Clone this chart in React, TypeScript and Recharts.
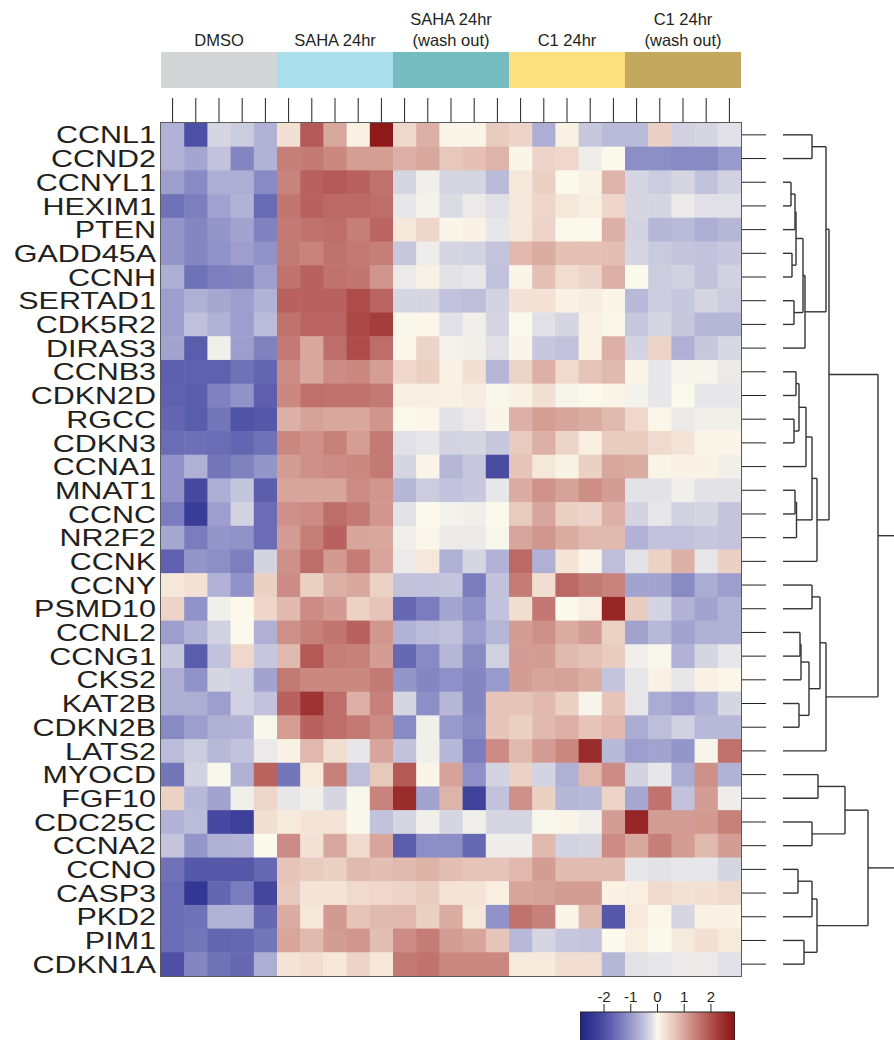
import React from 'react';
import {
  ScatterChart, Scatter, XAxis, YAxis, ReferenceLine, ReferenceArea,
  BarChart, Bar, Cell, LabelList,
} from 'recharts';

const FONT = '"Liberation Sans", Arial, Helvetica, sans-serif';

const genes = [
  'CCNL1', 'CCND2', 'CCNYL1', 'HEXIM1', 'PTEN', 'GADD45A', 'CCNH', 'SERTAD1', 'CDK5R2', 'DIRAS3',
  'CCNB3', 'CDKN2D', 'RGCC', 'CDKN3', 'CCNA1', 'MNAT1', 'CCNC', 'NR2F2', 'CCNK', 'CCNY',
  'PSMD10', 'CCNL2', 'CCNG1', 'CKS2', 'KAT2B', 'CDKN2B', 'LATS2', 'MYOCD', 'FGF10', 'CDC25C',
  'CCNA2', 'CCNO', 'CASP3', 'PKD2', 'PIM1', 'CDKN1A',
];

const groupLabels = ['DMSO', 'SAHA 24hr', 'SAHA 24hr\n(wash out)', 'C1 24hr', 'C1 24hr\n(wash out)'];
const groupColors = ['#d4d5d7', '#a9dfea', '#74bcbf', '#fde07e', '#c2a95e'];

const dmso = [
  [-0.7, -2.0, -0.3, -0.4, -0.7], [-0.7, -0.85, -0.5, -1.25, -0.7], [-0.95, -1.2, -0.75, -0.75, -1.2],
  [-1.5, -1.35, -0.9, -0.7, -1.6], [-1.05, -1.25, -1.05, -0.88, -1.3], [-1.05, -1.25, -1.1, -0.95, -1.1],
  [-0.75, -1.5, -1.35, -1.3, -0.95], [-0.95, -0.72, -0.82, -0.95, -0.7], [-0.95, -0.52, -0.7, -0.95, -0.58],
  [-0.88, -1.8, -0.08, -0.95, -1.3], [-1.75, -1.72, -1.72, -1.5, -1.65], [-1.72, -1.78, -1.3, -1.1, -1.75],
  [-1.65, -1.8, -1.45, -1.95, -1.88], [-1.58, -1.52, -1.58, -1.65, -1.5], [-1.1, -0.72, -1.45, -1.3, -1.05],
  [-1.1, -2.1, -0.75, -0.48, -1.78], [-1.38, -2.3, -0.95, -0.33, -1.58], [-0.82, -1.38, -1.05, -1.1, -1.58],
  [-1.72, -1.05, -1.15, -1.35, -0.33], [0.22, 0.28, -0.7, -1.1, 0.5], [0.45, -1.1, -0.08, 0.0, 0.42],
  [-0.95, -0.7, -0.35, 0.0, -0.72], [-0.45, -1.8, -0.5, 0.4, -0.45], [-0.75, -1.1, -0.3, -0.35, -0.88],
  [-0.75, -0.75, -0.95, -0.35, -0.5], [-1.2, -0.95, -0.72, -0.7, -0.02], [-0.58, -0.4, -0.62, -0.5, -0.12],
  [-1.45, -0.35, -0.02, -0.72, 1.78], [0.48, -0.62, -0.88, -0.08, 0.42], [-0.7, -0.58, -2.1, -2.25, 0.3],
  [-0.48, -1.05, -0.72, -0.7, 0.0], [-1.5, -1.88, -1.85, -1.88, -1.62], [-1.58, -2.45, -1.65, -1.38, -2.15],
  [-1.58, -1.5, -0.7, -0.7, -1.62], [-1.58, -1.45, -1.65, -1.62, -1.45], [-2.0, -1.25, -1.5, -1.62, -0.75],
];

const saha24 = [
  [0.3, 1.9, 1.0, 0.1, 2.8], [1.45, 1.5, 1.35, 1.1, 1.1], [1.4, 1.8, 1.9, 1.8, 1.6],
  [1.55, 1.8, 1.7, 1.7, 1.65], [1.5, 1.6, 1.65, 1.45, 1.75], [1.5, 1.4, 1.6, 1.5, 1.45],
  [1.6, 1.8, 1.6, 1.55, 1.2], [1.8, 1.8, 1.8, 2.05, 1.75], [1.6, 1.75, 1.75, 2.1, 2.25],
  [1.5, 1.0, 1.65, 2.05, 1.65], [1.3, 1.0, 1.3, 1.35, 1.1], [1.35, 1.62, 1.6, 1.6, 1.5],
  [0.9, 1.05, 1.0, 1.0, 1.2], [1.35, 1.25, 1.42, 1.1, 1.5], [1.12, 1.25, 1.3, 1.35, 1.5],
  [1.02, 1.02, 1.02, 1.3, 1.18], [1.25, 1.3, 1.65, 1.5, 1.18], [1.12, 1.45, 1.8, 1.02, 1.0],
  [1.25, 1.65, 1.15, 1.48, 1.02], [1.3, 0.5, 0.9, 1.0, 0.48], [0.78, 1.3, 1.15, 0.48, 0.65],
  [1.25, 1.42, 1.55, 1.8, 1.18], [0.78, 1.9, 1.45, 1.42, 1.12], [1.5, 1.35, 1.35, 1.35, 1.5],
  [1.8, 2.4, 1.65, 0.9, 1.42], [1.1, 1.8, 1.65, 1.5, 1.3], [0.1, 0.8, 0.32, -0.15, 1.02],
  [-1.45, 0.18, 1.42, -0.55, 0.6], [-0.15, -0.08, -0.3, -0.02, 1.4], [0.18, 0.25, 0.25, -0.01, -0.5],
  [1.3, 0.28, 1.0, 0.38, 1.02], [0.65, 0.55, 0.5, 0.78, 0.72], [0.6, 0.25, 0.25, 0.38, 0.4],
  [0.95, 0.22, 1.15, 0.65, 0.78], [1.02, 0.78, 1.12, 1.18, 0.72], [0.25, 0.32, 0.22, 0.45, 0.22],
];

const sahaWash = [
  [0.4, 0.9, 0.05, 0.05, 0.55], [0.9, 1.0, 0.6, 0.7, 0.85], [-0.3, -0.08, -0.3, -0.3, -0.6],
  [-0.15, -0.05, -0.25, -0.12, -0.2], [0.2, 0.42, 0.05, 0.08, -0.15], [-0.45, -0.1, -0.3, -0.33, -0.48],
  [-0.12, 0.1, -0.18, -0.15, -0.5], [-0.3, -0.3, -0.5, -0.55, -0.33], [0.02, 0.02, -0.2, -0.08, -0.3],
  [0.02, 0.45, -0.05, -0.08, -0.2], [0.4, 0.5, 0.1, 0.3, -0.65], [0.12, 0.12, 0.1, 0.15, -0.02],
  [0.0, 0.02, -0.18, -0.12, 0.05], [-0.2, -0.15, -0.33, -0.3, -0.45], [-0.3, 0.05, -0.65, -0.45, -2.05],
  [-0.65, -0.4, -0.5, -0.45, -0.15], [-0.18, 0.0, -0.05, -0.08, 0.0], [-0.08, 0.02, -0.12, -0.12, -0.02],
  [-0.12, 0.2, -0.72, -0.3, -0.7], [-0.5, -0.5, -0.48, -1.38, -0.5], [-1.62, -1.38, -0.85, -1.12, -0.5],
  [-0.7, -0.58, -0.52, -0.95, -0.65], [-1.62, -1.2, -0.65, -1.2, -0.35], [-1.05, -1.25, -1.13, -1.25, -1.0],
  [-0.3, -1.15, -0.65, -1.25, 0.65], [-1.2, -0.08, -1.0, -1.2, 0.65], [-0.5, -0.08, -0.63, -1.38, 1.3],
  [1.9, 0.05, 1.05, -1.12, -0.33], [2.5, -0.88, 0.85, -2.2, -0.5], [-0.3, -0.08, -0.3, -0.08, -0.3],
  [-1.8, -1.15, -1.15, -1.62, -0.1], [0.78, 0.88, 0.72, 0.65, 0.65], [0.45, 0.55, 0.26, 0.25, 0.12],
  [0.8, 0.5, 0.95, 0.22, -1.1], [1.3, 1.48, 1.12, 1.02, 0.65], [1.5, 1.6, 1.35, 1.35, 1.35],
];

const c1h24 = [
  [0.45, -0.75, 0.1, -0.45, -0.6], [0.05, 0.45, 0.4, -0.1, 0.0], [0.2, 0.5, 0.0, 0.08, 0.85],
  [0.2, 0.42, 0.22, 0.12, 0.42], [0.2, 0.45, 0.0, 0.0, 0.9], [0.8, 0.95, 0.7, 0.7, 0.72],
  [0.05, 0.7, 0.32, 0.45, 0.9], [0.28, 0.28, 0.1, 0.15, 0.05], [0.0, -0.2, -0.3, 0.1, 0.02],
  [0.05, -0.45, -0.5, 0.1, 0.9], [0.45, 0.9, 0.38, 0.65, 0.78], [0.1, 0.3, -0.03, 0.0, 0.05],
  [0.9, 1.1, 1.02, 0.95, 0.78], [0.58, 0.9, 0.45, 0.12, 0.55], [0.65, 0.22, 0.07, 0.5, 1.0],
  [0.95, 1.22, 1.05, 1.28, 1.12], [0.58, 1.02, 0.5, 0.45, 0.9], [1.02, 1.18, 0.95, 0.78, 0.78],
  [1.7, -0.72, 0.25, 0.05, -0.55], [1.48, 0.32, 1.7, 1.5, 1.4], [0.32, 1.52, 0.0, 0.12, 2.6],
  [1.12, 1.25, 0.95, 1.12, 0.48], [1.12, 1.12, 0.78, 0.68, 0.55], [1.12, 1.02, 1.05, 0.92, -0.48],
  [0.65, 0.78, 0.5, -0.03, 0.65], [0.5, 0.78, 0.9, 0.65, 0.8], [0.78, 1.12, 1.35, 2.5, -0.62],
  [0.48, -0.33, -0.72, 0.8, 1.3], [1.25, 0.5, -0.65, -0.62, 0.45], [-0.3, -0.02, 0.05, -0.08, 1.12],
  [-0.1, 0.78, -0.33, -0.3, 1.3], [0.8, 1.12, 0.75, 0.75, 0.75], [1.02, 1.05, 1.12, 1.12, 0.08],
  [1.6, 1.42, 0.05, 0.78, -1.88], [-0.62, -0.3, -0.45, -0.48, 0.0], [0.18, 0.18, 0.32, 0.32, -0.65],
];

const c1Wash = [
  [-0.6, 0.5, -0.35, -0.3, -0.2], [-1.15, -1.15, -1.2, -1.2, -1.0], [-0.3, -0.4, -0.3, -0.5, -0.35],
  [-0.3, -0.3, -0.12, -0.2, -0.2], [-0.33, -0.65, -0.6, -0.75, -0.65], [-0.3, -0.42, -0.48, -0.5, -0.45],
  [0.0, -0.4, -0.35, -0.5, -0.35], [-0.62, -0.4, -0.45, -0.3, -0.4], [-0.45, -0.3, -0.45, -0.65, -0.65],
  [-0.33, 0.45, -0.72, -0.45, -0.28], [0.05, -0.15, -0.03, -0.03, -0.12], [-0.05, -0.15, 0.0, -0.15, -0.15],
  [0.4, 0.03, -0.12, -0.08, -0.08], [0.55, 0.38, 0.25, 0.05, 0.05], [0.95, 0.05, 0.08, 0.08, -0.08],
  [-0.18, -0.18, -0.08, -0.18, -0.18], [-0.33, -0.15, -0.35, -0.3, -0.48], [-0.7, -0.5, -0.5, -0.45, -0.48],
  [-0.18, 0.48, 0.9, -0.15, 0.5], [-0.88, -0.88, -1.2, -0.78, -0.95], [0.55, -0.33, -0.7, -0.88, -0.7],
  [-0.88, -0.62, -0.88, -0.72, -0.7], [-0.08, -0.02, -0.7, -0.3, -0.15], [-0.15, 0.1, -0.15, 0.1, 0.02],
  [-0.15, -0.78, -0.95, -0.7, -0.3], [-0.78, -0.55, -0.35, -0.62, -0.62], [-0.95, -0.88, -1.05, -0.03, 1.6],
  [-0.33, -0.15, -0.78, 1.25, -0.7], [-0.82, 1.6, -0.5, 1.12, -0.1], [2.6, 1.12, 1.12, 1.15, 1.42],
  [1.0, 1.45, 1.12, 0.78, 1.12], [-0.15, -0.18, -0.15, -0.15, -0.3], [0.12, 0.38, 0.28, 0.3, 0.38],
  [0.18, 0.02, -0.3, 0.08, 0.08], [0.12, 0.0, 0.18, 0.3, 0.18], [-0.18, -0.15, -0.12, -0.12, -0.2],
];

// Dendrogram merges: [childA, childB, height]; leaves are 0..35, merges numbered from 36
const dendroMerges: [number, number, number][] = [
  [0, 1, 29], [2, 3, 8], [37, 4, 12], [5, 6, 9], [38, 39, 13], [7, 8, 11], [40, 41, 20], [42, 9, 22],
  [36, 43, 43], [10, 11, 13], [12, 13, 11], [45, 46, 16], [47, 14, 23], [15, 16, 12], [49, 17, 13.5],
  [48, 50, 29], [51, 18, 34], [44, 52, 46],
  [19, 20, 29], [21, 22, 17], [55, 23, 18], [24, 25, 16], [56, 57, 26], [54, 58, 37], [59, 26, 43],
  [53, 60, 95],
  [27, 28, 35], [29, 30, 29], [62, 63, 62], [31, 32, 15], [65, 33, 29], [34, 35, 21], [66, 67, 34],
  [64, 68, 85], [61, 69, 114],
];

const legendTicks = [-2, -1, 0, 1, 2];

// colour scale stops
const colorStops: [number, string][] = [
  [-2.9, '#1f2585'], [-2.3, '#3a3d98'], [-1.7, '#6062b0'], [-1.1, '#9092c8'], [-0.5, '#c2c2dc'],
  [-0.2, '#e0e0e6'], [0, '#fbf9ec'], [0.35, '#f1dccf'], [0.9, '#dcb0a6'], [1.5, '#c47a74'],
  [2.2, '#a84040'], [2.9, '#8a1212'],
];

const hexToRgb = (h: string) => [1, 3, 5].map((i) => parseInt(h.slice(i, i + 2), 16));
function colorFor(v: number): string {
  const lo = colorStops[0][0];
  const hi = colorStops[colorStops.length - 1][0];
  const x = Math.max(lo, Math.min(hi, v));
  for (let i = 0; i < colorStops.length - 1; i++) {
    const [a, ca] = colorStops[i];
    const [b, cb] = colorStops[i + 1];
    if (x >= a && x <= b) {
      const t = (x - a) / (b - a);
      const A = hexToRgb(ca);
      const B = hexToRgb(cb);
      const c = A.map((q, k) => Math.round(q + (B[k] - q) * t));
      return `rgb(${c[0]},${c[1]},${c[2]})`;
    }
  }
  return colorStops[colorStops.length - 1][1];
}

const groups = [dmso, saha24, sahaWash, c1h24, c1Wash];
const NCOL = 25;
const NROW = genes.length;
const cells: { x: number; y: number; v: number }[] = [];
groups.forEach((g, gi) => {
  g.forEach((row, r) => {
    row.forEach((v, c) => cells.push({ x: gi * 5 + c, y: r, v }));
  });
});

// layout
const PLOT_L = 161;
const PLOT_T = 123;
const PLOT_W = 580;
const PLOT_H = 853;
const CW = PLOT_W / NCOL;
const CH = PLOT_H / NROW;

const colTicks = Array.from({ length: NCOL }, (_, i) => i);
const rowTicks = Array.from({ length: NROW }, (_, i) => i);

// dendrogram segments
const nodeY: number[] = rowTicks.slice();
const nodeH: number[] = rowTicks.map(() => 0);
const segs: { x1: number; y1: number; x2: number; y2: number }[] = [];
dendroMerges.forEach(([a, b, h], k) => {
  const id = NROW + k;
  segs.push({ x1: nodeH[a], y1: nodeY[a], x2: h, y2: nodeY[a] });
  segs.push({ x1: nodeH[b], y1: nodeY[b], x2: h, y2: nodeY[b] });
  segs.push({ x1: h, y1: nodeY[a], x2: h, y2: nodeY[b] });
  nodeY[id] = (nodeY[a] + nodeY[b]) / 2;
  nodeH[id] = h;
});

const CellShape = (props: any) => {
  const { cx, cy, payload } = props;
  if (cx == null || cy == null) return <g />;
  return (
    <rect
      x={cx - CW / 2}
      y={cy - CH / 2}
      width={CW + 0.6}
      height={CH + 0.6}
      fill={colorFor(payload.v)}
    />
  );
};

const GeneTick = (props: any) => {
  const { x, y, payload } = props;
  const label = genes[payload.value] ?? '';
  return (
    <text
      x={x}
      y={y}
      dy="0.36em"
      textAnchor="end"
      fontSize={24}
      fill="#231f20"
      fontFamily={FONT}
      transform={`translate(${x} 0) scale(1.27 1) translate(${-x} 0)`}
    >
      {label}
    </text>
  );
};

const GroupLabel = (props: any) => {
  const { x, width, value } = props;
  const lines = String(value).split('\n');
  const cx = Number(x) + Number(width) / 2;
  return (
    <text textAnchor="middle" fontSize={16.5} fill="#231f20" fontFamily={FONT}>
      {lines.map((l, i) => (
        <tspan key={i} x={cx} y={lines.length === 1 ? 46 : i === 0 ? 25 : 46}>{l}</tspan>
      ))}
    </text>
  );
};

const headerData = groupLabels.map((name, i) => ({ name, span: 1, idx: i }));

export default function App() {
  return (
    <div
      style={{
        position: 'absolute', left: 0, top: 0, width: 894, height: 1040,
        overflow: 'hidden', background: '#ffffff', fontFamily: FONT,
      }}
    >
      {/* group header */}
      <div style={{ position: 'absolute', left: PLOT_L, top: 0 }}>
        <BarChart width={PLOT_W} height={88} data={headerData} margin={{ top: 52, right: 0, bottom: 0, left: 0 }} barCategoryGap={0}>
          <XAxis dataKey="name" hide />
          <YAxis hide domain={[0, 1]} />
          <Bar dataKey="span" isAnimationActive={false}>
            {headerData.map((d, i) => (
              <Cell key={i} fill={groupColors[i]} />
            ))}
            <LabelList dataKey="name" content={GroupLabel} />
          </Bar>
        </BarChart>
      </div>

      {/* heatmap */}
      <div style={{ position: 'absolute', left: 0, top: 0 }}>
        <ScatterChart width={894} height={1040} margin={{ top: 0, right: 0, bottom: 1040 - PLOT_T - PLOT_H, left: 0 }}>
          <XAxis
            type="number" dataKey="x" orientation="top" height={PLOT_T}
            domain={[-0.5, NCOL - 0.5]} ticks={colTicks} interval={0}
            tickFormatter={() => ''} tickSize={25} axisLine={false}
            stroke="#222" tickLine={{ stroke: '#222', strokeWidth: 1 }}
          />
          <YAxis
            type="number" dataKey="y" yAxisId="left" orientation="left" width={PLOT_L}
            domain={[-0.5, NROW - 0.5]} reversed ticks={rowTicks} interval={0}
            tickLine={false} axisLine={false}
            tickSize={3} tickMargin={2}
            tick={GeneTick}
          />
          <YAxis
            type="number" dataKey="y" yAxisId="right" orientation="right" width={894 - PLOT_L - PLOT_W}
            domain={[-0.5, NROW - 0.5]} reversed ticks={rowTicks} interval={0}
            tickFormatter={() => ''} tickSize={25} axisLine={false}
            stroke="#222" tickLine={{ stroke: '#222', strokeWidth: 1 }}
          />
          <Scatter data={cells} yAxisId="left" shape={CellShape} isAnimationActive={false} />
          <Scatter data={cells.slice(0, 1)} yAxisId="right" shape={() => <g />} isAnimationActive={false} />
        </ScatterChart>
      </div>

      {/* heatmap border */}
      <div
        style={{
          position: 'absolute', left: PLOT_L - 1, top: PLOT_T - 1, width: PLOT_W + 2, height: PLOT_H + 2,
          border: '1px solid #5a5a5a', boxSizing: 'border-box', pointerEvents: 'none',
        }}
      />

      {/* dendrogram */}
      <div style={{ position: 'absolute', left: 783, top: PLOT_T }}>
        <ScatterChart width={116} height={PLOT_H} margin={{ top: 0, right: 0, bottom: 0, left: 0 }}>
          <XAxis type="number" dataKey="x" domain={[0, 116]} hide />
          <YAxis type="number" dataKey="y" domain={[-0.5, NROW - 0.5]} reversed hide />
          <Scatter data={[{ x: 0, y: 0 }]} shape={() => <g />} isAnimationActive={false} />
          {segs.map((s, i) => (
            <ReferenceLine
              key={i}
              segment={[{ x: s.x1, y: s.y1 }, { x: s.x2, y: s.y2 }]}
              stroke="#333"
              strokeWidth={1.4}
              ifOverflow="visible"
            />
          ))}
        </ScatterChart>
      </div>

      {/* colour key */}
      <div style={{ position: 'absolute', left: 580, top: 985 }}>
        <ScatterChart width={155} height={80} margin={{ top: 0, right: 0, bottom: 0, left: 0 }}>
          <defs>
            <linearGradient id="keyGrad" x1="0" y1="0" x2="1" y2="0">
              {colorStops.map(([v, c], i) => (
                <stop key={i} offset={`${((v + 2.9) / 5.8) * 100}%`} stopColor={c} />
              ))}
            </linearGradient>
          </defs>
          <XAxis
            type="number" dataKey="x" orientation="top" height={27}
            domain={[-2.9, 2.9]} ticks={legendTicks} interval={0}
            tickSize={8} tickMargin={2} axisLine={false} stroke="#222"
            tickLine={{ stroke: '#222', strokeWidth: 1 }}
            tick={{ fontSize: 15, fill: '#231f20', fontFamily: FONT }}
          />
          <YAxis type="number" dataKey="y" domain={[0, 1]} hide />
          <Scatter data={[{ x: 0, y: 0.5 }]} shape={() => <g />} isAnimationActive={false} />
          <ReferenceArea x1={-2.9} x2={2.9} y1={0} y2={1} fill="url(#keyGrad)" fillOpacity={1} stroke="#222" strokeWidth={1.2} ifOverflow="visible" />
        </ScatterChart>
      </div>
    </div>
  );
}
